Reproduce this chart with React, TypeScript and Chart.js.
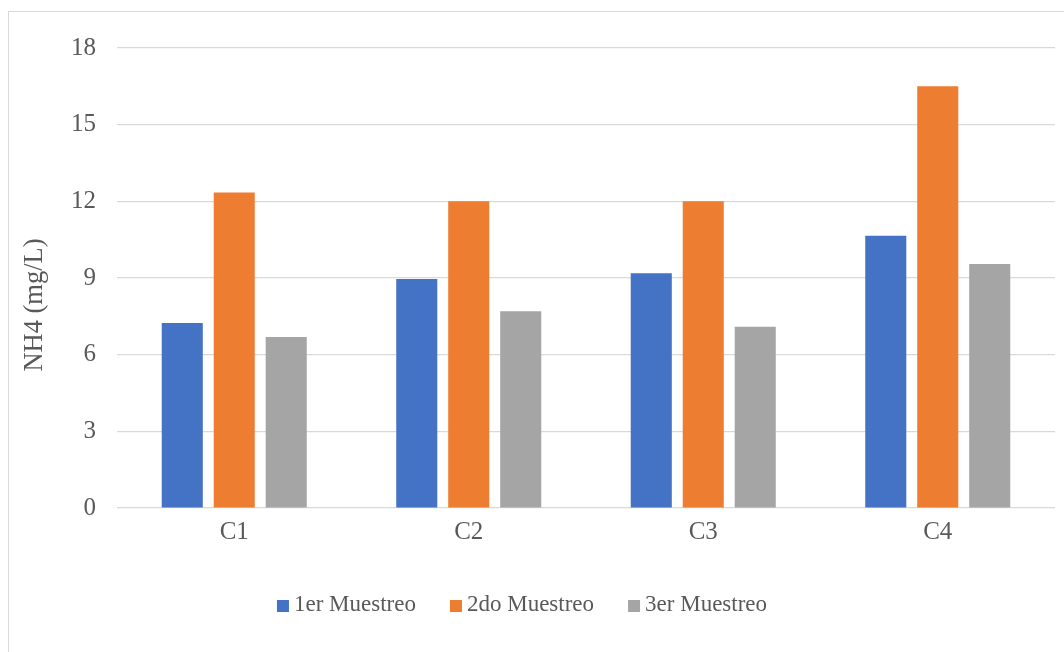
import { useEffect, useRef } from "react";
import { Chart, registerables } from "chart.js";

Chart.register(...registerables);

// Sampling points and NH4 concentration per campaign (mg/L)
const categories = ["C1", "C2", "C3", "C4"];
const muestreo1 = [7.24, 8.96, 9.19, 10.65];
const muestreo2 = [12.35, 12.0, 12.0, 16.5];
const muestreo3 = [6.69, 7.7, 7.09, 9.55];
const seriesNames = ["1er Muestreo", "2do Muestreo", "3er Muestreo"];
const seriesColors = ["#4472C4", "#ED7D31", "#A5A5A5"];
const yTicks = [0, 3, 6, 9, 12, 15, 18];
const yTitle = "NH4 (mg/L)";

const FONT = "'Liberation Serif', 'Times New Roman', serif";
const TEXT = "#595959";
const GRID = "#d9d9d9";

// Rotated y-axis title, drawn slightly below the plot centre
const yTitlePlugin = {
  id: "yTitle",
  afterDraw(chart: any, _args: any, opts: any) {
    const { ctx } = chart;
    ctx.save();
    ctx.translate(opts.x, opts.y);
    ctx.rotate(-Math.PI / 2);
    ctx.font = `${opts.size}px ${FONT}`;
    ctx.fillStyle = TEXT;
    ctx.textAlign = "center";
    ctx.textBaseline = "middle";
    ctx.fillText(opts.text, 0, 0);
    ctx.restore();
  },
};

// Square-swatch legend centred under the plot
const legendPlugin = {
  id: "swatchLegend",
  afterDraw(chart: any, _args: any, opts: any) {
    const { ctx } = chart;
    ctx.save();
    ctx.font = `${opts.size}px ${FONT}`;
    ctx.textBaseline = "middle";
    ctx.textAlign = "left";
    const items = chart.data.datasets.map((d: any) => ({
      label: d.label as string,
      color: d.backgroundColor as string,
      w: ctx.measureText(d.label).width,
    }));
    const total =
      items.reduce((s: number, it: any) => s + opts.box + opts.textGap + it.w, 0) +
      opts.itemGap * (items.length - 1);
    let x = opts.cx - total / 2;
    for (const it of items) {
      ctx.fillStyle = it.color;
      ctx.fillRect(x, opts.y - opts.box / 2 + 1, opts.box, opts.box);
      x += opts.box + opts.textGap;
      ctx.fillStyle = TEXT;
      ctx.fillText(it.label, x, opts.y);
      x += it.w + opts.itemGap;
    }
    ctx.restore();
  },
};

export default function App() {
  const canvasRef = useRef<HTMLCanvasElement | null>(null);

  useEffect(() => {
    if (!canvasRef.current) return;
    const seriesValues = [muestreo1, muestreo2, muestreo3];
    const chart = new Chart(canvasRef.current, {
      type: "bar",
      data: {
        labels: categories,
        datasets: seriesNames.map((name, i) => ({
          label: name,
          data: seriesValues[i],
          backgroundColor: seriesColors[i],
          borderWidth: 0,
          categoryPercentage: 0.665,
          barPercentage: 0.79,
        })),
      },
      plugins: [yTitlePlugin, legendPlugin],
      options: {
        animation: false,
        responsive: true,
        maintainAspectRatio: false,
        layout: { padding: { top: 36, left: 0, right: 9, bottom: 0 } },
        plugins: {
          legend: { display: false },
          tooltip: { enabled: false },
          yTitle: { text: yTitle, x: 26, y: 293, size: 26.5 },
          swatchLegend: { cx: 513, y: 593, size: 23, box: 12, textGap: 5, itemGap: 34 },
        } as any,
        scales: {
          x: {
            grid: { display: false, drawTicks: false },
            border: { display: false },
            ticks: {
              color: TEXT,
              font: { family: FONT, size: 25 },
              padding: 9,
            },
            afterFit(s: any) {
              s.height = 144;
              s.paddingLeft = 0;
              s.paddingRight = 0;
            },
          },
          y: {
            min: 0,
            max: 18,
            grid: { color: GRID, lineWidth: 1.2, drawTicks: false },
            border: { display: false },
            ticks: {
              color: TEXT,
              font: { family: FONT, size: 25 },
              padding: 21,
            },
            afterBuildTicks(s: any) {
              s.ticks = yTicks.map((v) => ({ value: v }));
            },
            afterFit(s: any) {
              s.width = 108;
              s.paddingTop = 0;
              s.paddingBottom = 0;
            },
          },
        },
      },
    });
    return () => chart.destroy();
  }, []);

  return (
    <div
      style={{
        position: "absolute",
        left: 8,
        top: 11,
        width: 1056,
        height: 641,
        boxSizing: "border-box",
        borderLeft: `1px solid ${GRID}`,
        borderTop: `1px solid ${GRID}`,
        background: "#ffffff",
      }}
    >
      <div style={{ position: "relative", width: 1055, height: 640 }}>
        <canvas ref={canvasRef} />
      </div>
    </div>
  );
}
